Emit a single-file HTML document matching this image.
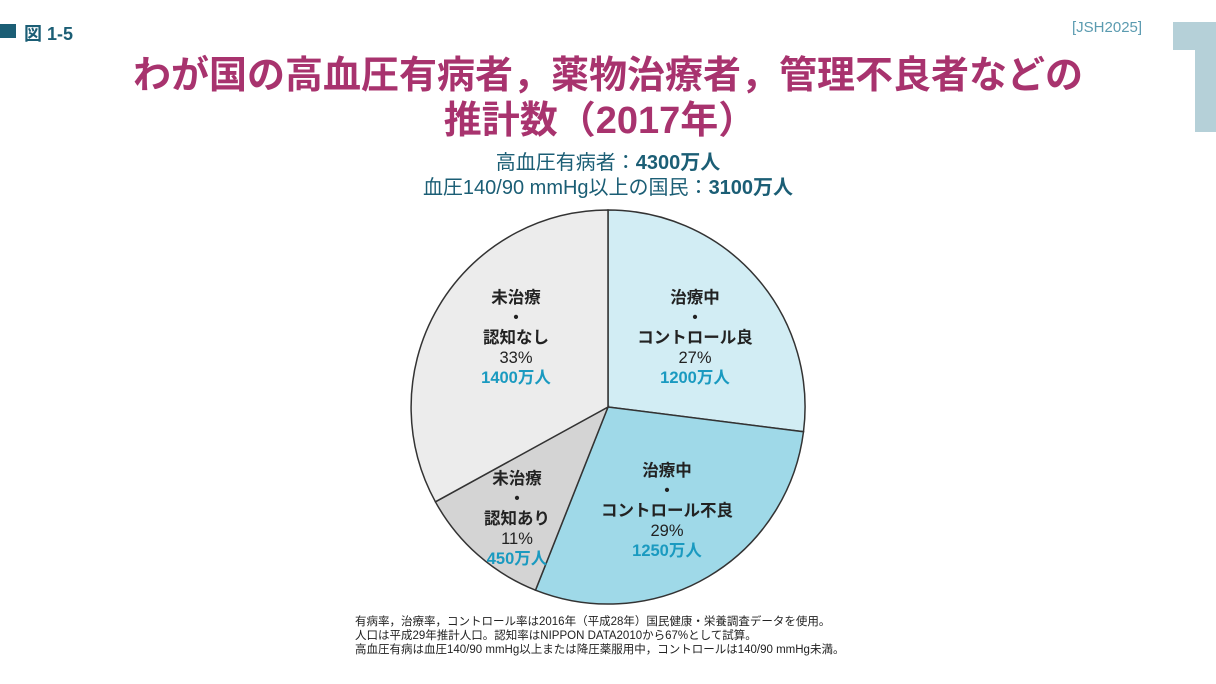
<!DOCTYPE html>
<html><head><meta charset="utf-8"><style>
body{margin:0;width:1216px;height:684px;background:#fff;overflow:hidden;position:relative;font-family:"Liberation Sans","Noto Sans CJK JP",sans-serif}
.a{position:absolute;white-space:nowrap}
.t{color:#a8336e;font-weight:bold;font-size:38px;left:0;width:1216px;text-align:center}
.l{position:absolute;text-align:center;font-size:16.5px;line-height:20px;color:#222}
.l b{font-weight:bold}
.l .v{color:#1a9ac0;font-weight:bold}
</style></head><body>
<div class="a" style="left:0;top:24px;width:16px;height:14px;background:#1b5e75"></div>
<div class="a" style="left:24px;top:20px;font-size:18px;font-weight:bold;color:#1b5e75">図 1-5</div>
<div class="a" style="left:1072px;top:19px;font-size:15px;color:#5b9bb0">[JSH2025]</div>
<svg class="a" style="left:1170px;top:20px" width="46" height="112"><polygon points="3,2 46,2 46,112 25,112 25,30 3,30" fill="#b5d0d8"/></svg>
<div class="a t" style="top:44px;left:0px">わが国の高血圧有病者，薬物治療者，管理不良者などの</div>
<div class="a t" style="top:89px;left:-8px">推計数（2017年）</div>
<div class="a" style="left:0;width:1216px;text-align:center;top:151px;font-size:20px;color:#1b5e75;line-height:25px">高血圧有病者：<b>4300万人</b><br>血圧140/90 mmHg以上の国民：<b>3100万人</b></div>
<svg class="a" style="left:0;top:0" width="1216" height="684">
<g stroke="#333" stroke-width="1.5">
<path d="M608,407 L608,210 A197,197 0 0 1 803.5,431.7 Z" fill="#d2edf4"/>
<path d="M608,407 L803.5,431.7 A197,197 0 0 1 535.5,590.2 Z" fill="#9fd9e8"/>
<path d="M608,407 L535.5,590.2 A197,197 0 0 1 435.4,501.8 Z" fill="#d4d4d4"/>
<path d="M608,407 L435.4,501.8 A197,197 0 0 1 608,210 Z" fill="#ececec"/>
</g></svg>
<div class="l" style="left:450px;top:288px;width:132px"><b>未治療<br>・<br>認知なし</b><br>33%<br><span class="v">1400万人</span></div>
<div class="l" style="left:605px;top:288px;width:180px"><b>治療中<br>・<br>コントロール良</b><br>27%<br><span class="v">1200万人</span></div>
<div class="l" style="left:577px;top:461px;width:180px"><b>治療中<br>・<br>コントロール不良</b><br>29%<br><span class="v">1250万人</span></div>
<div class="l" style="left:462px;top:469px;width:110px"><b>未治療<br>・<br>認知あり</b><br>11%<br><span class="v">450万人</span></div>
<div class="a" style="left:355px;top:615px;font-size:11.5px;line-height:14px;color:#222">有病率，治療率，コントロール率は2016年（平成28年）国民健康・栄養調査データを使用。<br>人口は平成29年推計人口。認知率はNIPPON DATA2010から67%として試算。<br>高血圧有病は血圧140/90 mmHg以上または降圧薬服用中，コントロールは140/90 mmHg未満。</div>
</body></html>
